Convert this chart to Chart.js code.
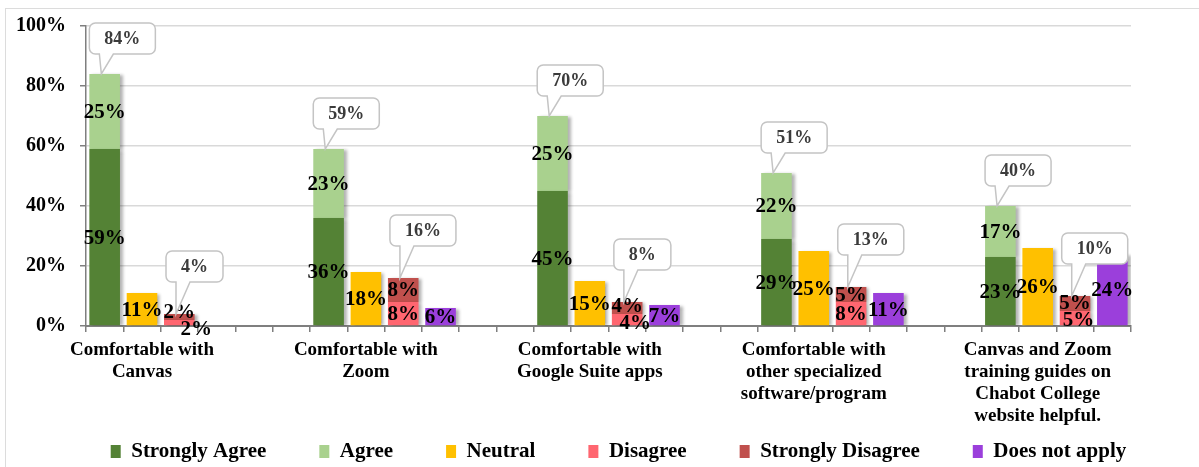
<!DOCTYPE html>
<html>
<head>
<meta charset="utf-8">
<script src="https://cdn.jsdelivr.net/npm/chart.js@4.4.1/dist/chart.umd.min.js"></script>
<style>
    html, body { margin: 0; padding: 0; background: #fff; }
    #wrap { position: relative; width: 1199px; height: 467px; overflow: hidden; }
    #frame {
        position: absolute; left: 5px; top: 8px; right: -10px; bottom: -10px;
        border-left: 1.5px solid #dcdcdc; border-top: 1.5px solid #dcdcdc;
    }
    canvas { position: absolute; left: 0; top: 0; }
</style>
</head>
<body>
<div id="wrap">
    <div id="frame"></div>
    <canvas id="survey-chart" width="1199" height="467"></canvas>
</div>
<script>
// Survey categories (x axis)
const categories = [
    ["Comfortable with", "Canvas"],
    ["Comfortable with", "Zoom"],
    ["Comfortable with", "Google Suite apps"],
    ["Comfortable with", "other specialized", "software/program"],
    ["Canvas and Zoom", "training guides on", "Chabot College", "website helpful."],
];

// Series values, in percent
const stronglyAgree = [59, 36, 45, 29, 23];
const agree = [25, 23, 25, 22, 17];
const neutral = [11, 18, 15, 25, 26];
const disagree = [2, 8, 4, 8, 5];
const stronglyDisagree = [2, 8, 4, 5, 5];
const doesNotApply = [0, 6, 7, 11, 24];

// Y axis tick values
const yTicks = [0, 20, 40, 60, 80, 100];

const seriesNames = ["Strongly Agree", "Agree", "Neutral", "Disagree", "Strongly Disagree", "Does not apply"];
const seriesColors = ["#548235", "#A9D18E", "#FFC000", "#FF6670", "#C0504D", "#9B3FDB"];

// each group: agree stack, neutral, disagree stack, does-not-apply, then 2 empty slots
const SLOTS_PER_GROUP = 6;
const slotCount = categories.length * SLOTS_PER_GROUP - 2;

const agreeTotals = stronglyAgree.map((v, i) => v + agree[i]);
const disagreeTotals = disagree.map((v, i) => v + stronglyDisagree[i]);

const labels = Array.from({ length: slotCount }, () => "");
categories.forEach((c, g) => { labels[g * SLOTS_PER_GROUP + 1] = c; });

// put each group's value in its bar slot
const toSlots = (values, barIndex) => {
    const out = Array.from({ length: slotCount }, () => null);
    values.forEach((v, g) => { out[g * SLOTS_PER_GROUP + barIndex] = v; });
    return out;
};

const seriesValues = [stronglyAgree, agree, neutral, disagree, stronglyDisagree, doesNotApply];
const barIndexOf = [0, 0, 1, 2, 2, 3];

const datasets = seriesValues.map((vals, i) => ({
    label: seriesNames[i],
    data: toSlots(vals, barIndexOf[i]),
    backgroundColor: seriesColors[i],
    borderWidth: 0,
    categoryPercentage: 1,
    barPercentage: 0.82,
}));

const SERIF = '"Liberation Serif", "Times New Roman", serif';

// soft shadow on the bars, like the original
const shadowPlugin = {
    id: "barShadow",
    beforeDatasetDraw(chart) {
        const c = chart.ctx;
        c.save();
        c.shadowColor = "rgba(0,0,0,0.3)";
        c.shadowBlur = 3;
        c.shadowOffsetX = 3;
        c.shadowOffsetY = 1;
    },
    afterDatasetDraw(chart) {
        chart.ctx.restore();
    },
};

// legend sits a bit right of centre in the original
const legendShift = {
    id: "legendShift",
    afterLayout(chart) {
        chart.legend.left += 50;
        chart.legend.right += 50;
    },
};

// value labels in the middle of each segment
const segmentLabels = {
    id: "segmentLabels",
    afterDatasetsDraw(chart) {
        const ctx = chart.ctx;
        const items = [];
        chart.data.datasets.forEach((ds, di) => {
            const meta = chart.getDatasetMeta(di);
            meta.data.forEach((bar, i) => {
                const v = ds.data[i];
                if (!v) return;
                items.push({ slot: i, x: bar.x, y: (bar.y + bar.base) / 2, text: v + "%" });
            });
        });
        // spread labels that crowd each other in the same bar
        const minGap = 17;
        for (let i = 0; i < items.length; i++) {
            for (let j = i + 1; j < items.length; j++) {
                if (items[i].slot !== items[j].slot) continue;
                const low = items[i].y >= items[j].y ? items[i] : items[j];
                const high = low === items[i] ? items[j] : items[i];
                const d = low.y - high.y;
                if (d < minGap) {
                    const mid = (low.y + high.y) / 2;
                    low.y = mid + minGap / 2;
                    high.y = mid - minGap / 2;
                    low.x += (minGap - d) * 1.5;
                }
            }
        }
        ctx.save();
        ctx.font = "bold 21px " + SERIF;
        ctx.textAlign = "center";
        ctx.textBaseline = "middle";
        ctx.fillStyle = "#000";
        items.forEach((it) => ctx.fillText(it.text, it.x, it.y + 1));
        ctx.restore();
    },
};

// callout boxes with the stack totals
const totalCallouts = {
    id: "totalCallouts",
    afterDatasetsDraw(chart) {
        const ctx = chart.ctx;
        const specs = [
            { dataset: 1, totals: agreeTotals, gap: 20, inset: 0 },
            { dataset: 4, totals: disagreeTotals, gap: 32, inset: 2 },
        ];
        ctx.save();
        ctx.font = "bold 18px " + SERIF;
        specs.forEach((s) => {
            const meta = chart.getDatasetMeta(s.dataset);
            s.totals.forEach((t, g) => {
                const bar = meta.data[g * SLOTS_PER_GROUP + barIndexOf[s.dataset]];
                if (!bar) return;
                const text = t + "%";
                const left = bar.x - bar.width / 2;
                const top = bar.y;
                const w = ctx.measureText(text).width + 30;
                const h = 31;
                const r = 6;
                const bx = left + s.inset;
                const by = top - s.gap - h;
                const tipX = left + 12;

                ctx.beginPath();
                ctx.moveTo(bx + r, by);
                ctx.lineTo(bx + w - r, by);
                ctx.arcTo(bx + w, by, bx + w, by + r, r);
                ctx.lineTo(bx + w, by + h - r);
                ctx.arcTo(bx + w, by + h, bx + w - r, by + h, r);
                ctx.lineTo(bx + 24, by + h);
                ctx.lineTo(tipX, top);
                ctx.lineTo(bx + 10, by + h);
                ctx.lineTo(bx + r, by + h);
                ctx.arcTo(bx, by + h, bx, by + h - r, r);
                ctx.lineTo(bx, by + r);
                ctx.arcTo(bx, by, bx + r, by, r);
                ctx.closePath();
                ctx.fillStyle = "#fff";
                ctx.fill();
                ctx.strokeStyle = "#c4c4c4";
                ctx.lineWidth = 1.5;
                ctx.stroke();

                ctx.fillStyle = "#3b3b3b";
                ctx.textAlign = "center";
                ctx.textBaseline = "middle";
                ctx.fillText(text, bx + w / 2, by + h / 2 + 1);
            });
        });
        ctx.restore();
    },
};

const ctx = document.getElementById("survey-chart");

new Chart(ctx, {
    type: "bar",
    data: { labels, datasets },
    options: {
        responsive: false,
        animation: false,
        layout: {
            padding: { left: 6, right: 68, top: 21, bottom: -5 },
        },
        scales: {
            x: {
                stacked: true,
                afterFit: (scale) => { scale.height = 62; },
                grid: {
                    drawOnChartArea: false,
                    drawTicks: true,
                    tickLength: 6,
                    color: "#7f7f7f",
                    lineWidth: 1.5,
                    offset: true,
                },
                border: { display: true, color: "#7f7f7f", width: 2 },
                ticks: {
                    // mirrored with negative padding so the long labels are not clipped
                    // to the short axis box (the legend needs the room below)
                    mirror: true,
                    padding: -35,
                    autoSkip: false,
                    maxRotation: 0,
                    minRotation: 0,
                    color: "#000",
                    font: { family: SERIF, size: 19, weight: "bold", lineHeight: 1.15 },
                },
            },
            y: {
                stacked: true,
                min: 0,
                max: 100,
                afterFit: (scale) => { scale.width = 80; },
                afterBuildTicks: (scale) => { scale.ticks = yTicks.map((v) => ({ value: v })); },
                grid: {
                    color: "#d9d9d9",
                    lineWidth: 1.5,
                    drawTicks: true,
                    tickLength: 6,
                    tickColor: "#7f7f7f",
                },
                border: { display: true, color: "#7f7f7f", width: 1.5 },
                ticks: {
                    padding: 14,
                    color: "#000",
                    font: { family: SERIF, size: 20, weight: "bold" },
                    callback: (v) => v + "%",
                },
            },
        },
        plugins: {
            legend: {
                position: "bottom",
                labels: {
                    boxWidth: 10,
                    boxHeight: 13,
                    padding: 53,
                    color: "#000",
                    font: { family: SERIF, size: 21, weight: "bold" },
                },
            },
            tooltip: { enabled: false },
        },
    },
    plugins: [shadowPlugin, legendShift, segmentLabels, totalCallouts],
});
</script>
</body>
</html>
